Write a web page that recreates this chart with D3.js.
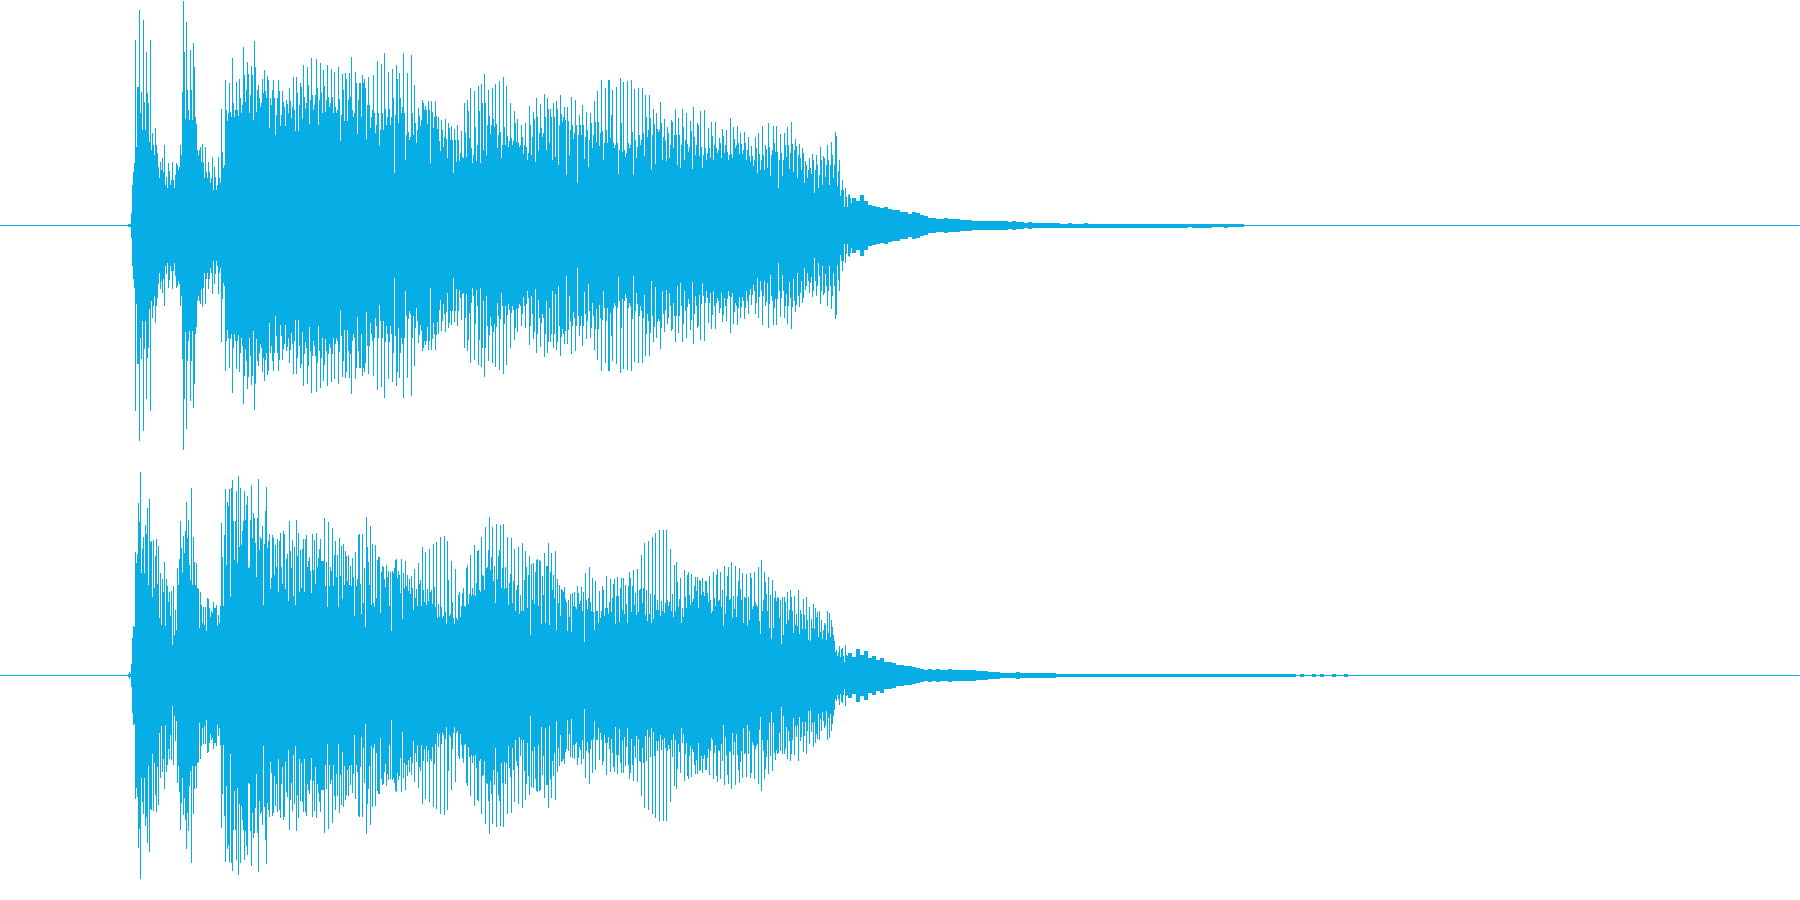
<!DOCTYPE html>
<html>
<head>
<meta charset="utf-8">
<style>html,body{margin:0;padding:0;background:#fff;overflow:hidden}svg{display:block}</style>
<script src="https://cdn.jsdelivr.net/npm/d3@7/dist/d3.min.js"></script>
</head>
<body>
<svg id="chart" width="1800" height="900"></svg>
<script>
// Envelope magnitude of each channel, one value per display column, in level units (full scale 225).
const firstColumn = 128;
const tailStep = 4;
const fullScale = 225;
const waveColor = "#06aee5";

const channel1Levels = [
1,1,1,12,40,53,62,
185,78,138,138, 215,112,133,95, 205,123,95, 173,132,122,83, 185,75,92,80,70, 97,80, 72,58,47, 63,55, 67,53, 80,40,48,37,
62,54,40,45, 63,45,37,50, 62,60,55,58, 80,70, 133, 224,173,106, 203,135,115,105, 175,135,105, 182,158,108, 101,75,70,75,
78,63, 81,62,47, 78,53,47, 63,53,42,47, 68,35, 58,48,35,40, 68,47,42, 116,73,57,60, 145,115,104,112, 142,113,108, 167,122,108,115, 143,115,109,
146,127,112,120, 178,150,123,135, 163,151,112,130, 159,150,105, 184,158,113,135, 140,127,118,122, 146,132, 155,134,127, 149,145,97,127,120,135, 145,127,90,110,127,
145,134,99,110,134, 123,118,99, 125,121,112, 137,124,107,118, 148,115,94, 148,132,94,120, 142,138,106, 160,128,116,122, 158,140,101,125, 167,130,115,120,130,
166,137,100,125, 162,132,112, 155,139,113,125, 160,128,118,122, 156,128,112, 153,118,112,115, 158,126,84,110, 151,135,104, 152,146,104,125, 152,128, 168,115,108,112,
153,142,91,125, 142,142,108, 150,142, 146,137,86,120, 148,120,97,108,115, 150,112,92,100, 164,112,79,95, 161,112,95, 172,116,100,108, 153,116,100,108, 156,127,52,110,
160,146,102, 152,127,112,118, 172,112,65,90, 152,93,85,88, 170,112,90, 140,102,82,95, 117,109,99,105, 125,122,115, 119,115,101, 124,115,62, 124,113,97,108, 124,109,96,
108,84,74, 105,95,78,88, 106,86,67, 102,97,85, 99,85,52, 96,85,63, 100,85,64,72, 94,68,67, 122,92,68, 125,114,87, 137,77,62,70, 134,98,64,80, 139,114,62, 141,122,75,
151,122,70,100, 135,109,91,100, 137,106,98, 141,101,77,90, 144,93,67,80, 148,98,80, 139,89,78,84, 122,87,80,84, 114,102,83, 106,82,78,80, 100,88,71,80, 102,78,65,72,
119,100,70,88, 113,106,63, 127,108,74,92, 121,97,88,92, 131,108,75, 127,116,82, 116,108,65, 122,108,68, 124,116,60,100, 130,111,103,108, 118,105,50, 118,104,70,95,
128,100,86,92, 125,100,42,90, 110,100,90, 120,100,66,88, 113,95,58,85, 112,102,77,90, 124,103,83, 134,103,79,92, 145,94,65,82, 137,95,82, 145,145,87,110, 135,82,77,80,
138,82,51,75, 147,102,73, 143,75,68,72, 144,82,77,80, 145,93,50, 136,85,67,78, 137,90,80,85, 137,92,69, 130,108,88,95, 130,107,55,90, 116,101,61, 112,96,93,95,
123,102,65,88, 106,84,64, 98,92,67,80, 105,103,77,90, 116,90,60, 107,90,57,80, 116,98,65,85, 112,81,73,78, 104,94,56, 118,88,70,80, 102,100,69, 114,78,57,70, 115,77,65,72,
97,77,67, 103,89,65,80, 103,77,72,75, 87,82,67, 96,89,72,80, 95,73,65,70, 107,71,67, 98,86,77,80, 99,82,71, 92,81,71,75, 93,82,65,75, 88,69,63, 79,69,59,65, 88,77,52,
92,71,55,65, 99,70,55, 80,76,57, 102,78,49,70,75, 99,82,73, 99,73,37,65, 91,72,49,65, 92,80,68, 98,80,56,72, 103,81,53,75, 86,79,47,70, 81,67,55, 77,72,42,
64,60,47,55, 67,57,51, 71,65,32,55, 70,60,37,50, 78,65,40, 69,67,48,60, 80,65,40,60, 83,70,47,60, 93,89,39, 54,65,29,35, 45,35,18, 37,28,18,30, 31,27,22
];

const channel1Tail = [
27,24,30,24,20,19,18,17,18,16,15,15,13,13,11,13,12,10,9,7,7,6,6,7,6,6,6,5,5,5,4,4,4,4,4,4,4,4,4,3,4,3,3,2,3,2,2,2,2,
2,2,2,1.5,1.5,2,1.5,1.5,1.5,2,1.5,1.5,1.5,1.5,1.5,1.5,1.5,1.5,1.5,1.5,1.5,1.5,1.5,1.5,1.5,1.5,1.5,1.5,1.5,1.5,1.5,1.5,1.5,1.5,1.5,1,1.5,1.5,1.5,1.5,1.5,1,1,1,1.5,1,1,1,1
];

const channel2Levels = [
1,3,1,11,37,49,48,
123,112,121,172,153,203,102,126,138,102,150,141,167,90,176,133,134,78,135,87,119,136,91,129,57,102,50,96,83,113,49,96,89,73,83,59,84,30,89,40,65,45,
107,90,116,154,127,102,139,122,144,173,137,155,110,95,187,90,138,113,90,112,87,86,47,83,70,52,68,50,68,44,77,76,67,58,64,62,73,67,67,70,49,60,52,69,
152,118,69,140,186,110,173,169,186,78,187,195,154,115,154,184,112,199,128,187,130,144,154,184,155,170,179,107,108,155,190,137,162,157,132,98,157,196,125,138,136,149,70,131,164,188,127,134,141,86,97,140,137,100,130,108,136,83,134,142,108,91,144,141,86,116,121,74,154,124,107,135,79,128,70,155,119,142,83,125,87,126,
136,83,136,140,108,114,118,104,82,141,105,135,91,142,108,117,126,136,114,114,114,157,89,113,68,153,89,108,104,147,89,120,134,98,120,68,137,99,129,76,131,90,124,119,94,120,90,109,89,117,98,59,123,89,96,140,141,91,61,141,72,107,48,158,128,113,90,149,70,131,72,68,130,77,115,118,118,62,103,109,108,96,88,110,98,104,69,103,44,104,102,107,115,116,97,104,100,82,116,56,102,87,114,89,100,84,96,
81,99,87,65,106,77,86,69,112,91,95,69,128,85,73,123,70,86,74,126,83,85,71,131,88,68,133,57,71,58,138,68,57,59,139,63,51,134,95,59,61,114,73,57,51,106,57,55,80,83,58,69,82,87,69,68,107,110,71,81,120,79,87,80,130,79,92,124,125,85,83,138,100,99,85,148,107,108,125,158,105,118,148,94,109,72,151,96,119,125,150,87,107,151,86,108,87,138,70,92,101,137,72,94,126,64,85,90,128,61,80,64,132,64,95,124,108,67,100,119,40,111,75,112,71,103,115,116,69,115,114,51,99,80,122,52,109,109,132,50,103,122,85,100,77,124,45,96,72,90,59,86,85,83,88,76,73,44,75,58,81,43,82,69,83,68,66,89,82,71,74,88,64,83,33,102,75,66,77,108,73,64,97,63,45,94,64,64,52,84,57,64,89,85,59,67,99,67,61,73,96,63,77,91,96,51,79,98,79,53,87,97,65,97,61,90,71,52,89,103,97,63,89,105,70,82,60,106,63,85,86,120,72,87,132,60,85,54,134,61,81,52,138,56,80,142,65,75,65,145,59,74,64,145,62,72,145,75,69,73,126,64,81,58,110,64,113,93,68,76,97,52,67,58,105,78,67,100,103,80,70,101,73,76,89,98,84,98,67,95,94,80,97,83,79,94,94,82,73,99,75,62,64,103,77,69,100,106,74,75,103,68,85,49,109,61,79,99,108,75,76,113,57,79,66,109,58,79,94,107,86,75,102,52,78,77,101,49,78,55,102,97,66,69,103,73,70,68,108,54,41,115,64,75,103,93,81,64,98,47,80,36,95,47,77,84,74,78,77,57,75,31,78,40,78,73,51,83,55,65,85,78,64,42,79,50,61,49,85,41,65,61,46,76,60,46,78,55,35,68,34,56,47,71,46,67,58,63,38,64,43,55,36,45,52,50,35,64,42,62,38,55,48,40,34,
23,25,19,23,29,18,26,27,19,13,30,20,19
];

const channel2Tail = [
22,18,26,20,24,17,19,15,17,13,13,12,10,10,9,9,8,7,6,5,6,5,6,5,5,6,5,5,5,5,5,5,4,4,4,3,3,3,2,2,2,2,3,2,2,2,2,2,2,2,2,2,
1,1,1,1,1,1,1,1,1,1,1,1,1,1,1,1,1,1,1,1,1,1,1,1,1,1,1,1,1,1,1,1,1,1,1,1,1,1,1,1,1,1,1,1,1,1,1,1,1,1,1,1,1,1,1,1,1,1,1,1,0,1,0,0,1,0,1,0,0,1,0,0,1
];

const svg = d3.select("#chart");
const width = 1800, height = 900;

const column = d3.scaleLinear().domain([0, width]).range([0, width]);
const channelBand = d3.scaleBand().domain([0, 1]).range([0, height]);
const level = d3.scaleLinear().domain([-fullScale, fullScale]).range([channelBand.bandwidth() + 0.5, 0.5]);

const channels = [
  {levels: channel1Levels, tail: channel1Tail},
  {levels: channel2Levels, tail: channel2Tail}
];

const g = svg.selectAll("g.channel").data(channels).join("g")
  .attr("class", "channel")
  .attr("shape-rendering", "crispEdges")
  .attr("transform", (d, i) => `translate(0,${channelBand(i)})`);

// zero line
g.append("rect")
  .attr("x", column(0)).attr("width", column(width))
  .attr("y", level(0) - 0.5).attr("height", 1)
  .attr("fill", waveColor);

// columns of the main sound
g.selectAll("rect.col").data(d => d.levels).join("rect")
  .attr("class", "col")
  .attr("x", (d, i) => column(firstColumn + i))
  .attr("width", 1)
  .attr("y", d => level(d) - 0.5)
  .attr("height", d => level(-d) - level(d) + 1)
  .attr("fill", waveColor);

// decaying tail
g.each(function(ch) {
  const start = firstColumn + ch.levels.length;
  d3.select(this).selectAll("rect.tail").data(ch.tail).join("rect")
    .attr("class", "tail")
    .attr("x", (d, i) => column(start + i * tailStep))
    .attr("width", column(tailStep))
    .attr("y", d => level(d) - 0.5)
    .attr("height", d => level(-d) - level(d) + 1)
    .attr("fill", waveColor);
});
</script>
</body>
</html>
